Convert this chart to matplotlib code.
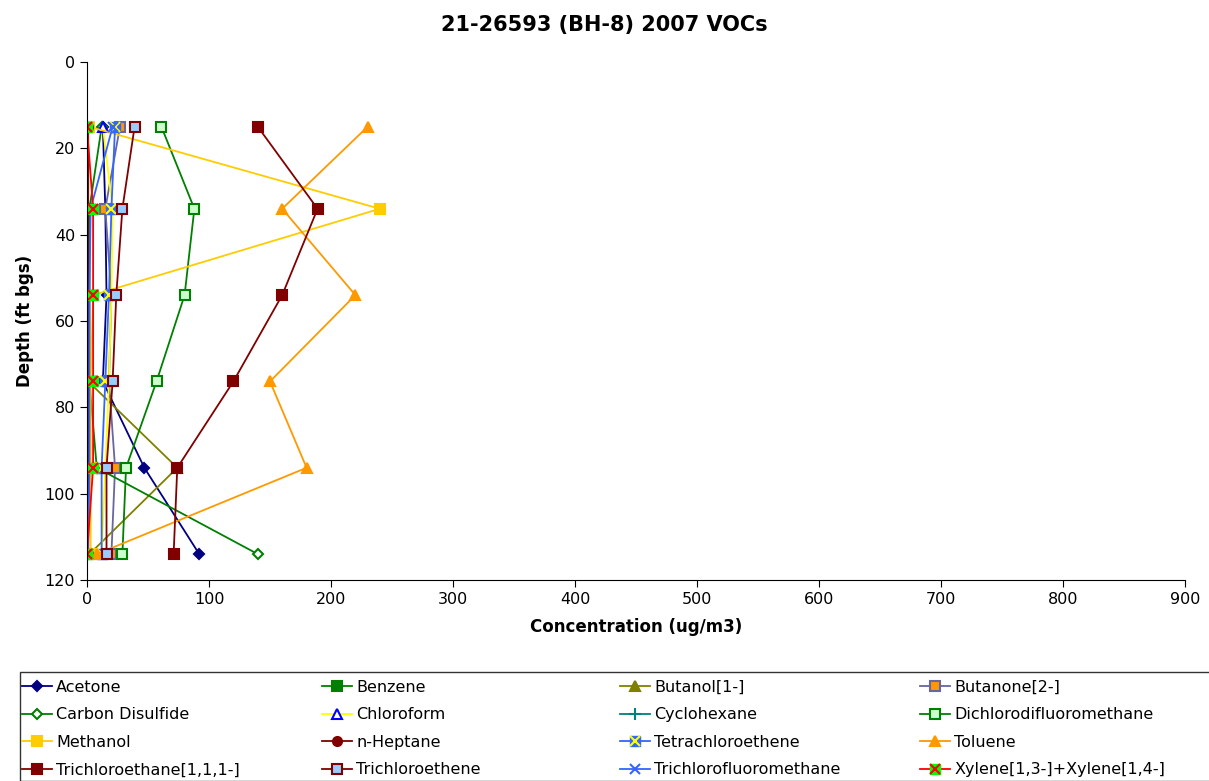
import numpy as np
import matplotlib
matplotlib.use('Agg')
import matplotlib.pyplot as plt
import matplotlib.patches as patches

depth = [15, 34, 54, 74, 94, 114]

names = ['Acetone', 'Benzene', 'Butanol[1-]', 'Butanone[2-]',
         'Carbon Disulfide', 'Chloroform', 'Cyclohexane', 'Dichlorodifluoromethane',
         'Methanol', 'n-Heptane', 'Tetrachloroethene', 'Toluene',
         'Trichloroethane[1,1,1-]', 'Trichloroethene', 'Trichlorofluoromethane',
         'Xylene[1,3-]+Xylene[1,4-]']

acetone = [13, 15, 16, 13, 47, 92]
benzene = [1, 1, 1, 1, 1, 1]
butanol = [1, 1, 1, 1, 74, 2]
butanone = [27, 15, 20, 18, 23, 20]
carbon_disulfide = [12, 2, 2, 2, 8, 140]
chloroform = [13, 21, 20, 18, 15, 12]
cyclohexane = [0, 0, 0, 0, 0, 0]
dichlorodifluoromethane = [61, 88, 80, 57, 32, 29]
methanol = [2, 240, 5, 3, 3, 3]
n_heptane = [1, 1, 1, 1, 1, 1]
tetrachloroethene = [23, 20, 18, 15, 12, 12]
toluene = [230, 160, 220, 150, 180, 8]
trichloroethane = [140, 189, 160, 120, 74, 71]
trichloroethene = [39, 29, 24, 21, 16, 16]
trichlorofluoromethane = [21, 3, 2, 2, 2, 1]
xylene = [0, 5, 5, 5, 5, 0]

series = [acetone, benzene, butanol, butanone, carbon_disulfide, chloroform,
          cyclohexane, dichlorodifluoromethane, methanol, n_heptane,
          tetrachloroethene, toluene, trichloroethane, trichloroethene,
          trichlorofluoromethane, xylene]

# (line colour, marker, face, edge, size)
styles = [
    ('#000080', 'D', '#000080', '#000080', 5.5),
    ('#008000', 's', '#008000', '#008000', 6.5),
    ('#808000', '^', '#808000', '#808000', 6.5),
    ('#6666A0', 's', '#FF9900', '#6666A0', 6.5),
    ('#008000', 'D', 'white', '#008000', 5.5),
    ('#FFFF00', '^', 'white', '#0000FF', 6.5),
    ('#008080', '+', 'none', '#008080', 8),
    ('#008000', 's', '#CCFFCC', '#008000', 6.5),
    ('#FFCC00', 's', '#FFCC00', '#FFCC00', 6.5),
    ('#800000', 'o', '#800000', '#800000', 6.5),
    ('#3366FF', 'X', '#FFFF00', '#3366FF', 6.5),
    ('#FF9900', '^', '#FF9900', '#FF9900', 6.5),
    ('#800000', 's', '#800000', '#800000', 6.5),
    ('#800000', 's', '#99CCFF', '#800000', 6.5),
    ('#3366FF', 'x', '#3366FF', '#3366FF', 7),
    ('#FF0000', 'X', '#FF0000', '#00FF00', 6.5),
]

fig = plt.figure(figsize=(12.09, 7.81), dpi=100)
ax = fig.add_axes([87/1209, 1 - 580/781, (1185-87)/1209, (580-62)/781])

handles = []
for name, vals, st in zip(names, series, styles):
    col, mk, fc, ec, ms = st
    if mk == 'X':
        sq = '#3366FF' if name.startswith('Tetra') else '#00FF00'
        xc = '#FFFF00' if name.startswith('Tetra') else '#FF0000'
        l1, = ax.plot(vals, depth, color=col, lw=1.3, marker='s', ms=ms, mfc=sq, mec=sq)
        l2, = ax.plot(vals, depth, ls='none', marker='x', ms=ms, mec=xc, mew=1.5)
        handles.append((l1, l2))
    else:
        l1, = ax.plot(vals, depth, color=col, lw=1.3, marker=mk, ms=ms, mfc=fc, mec=ec,
                      mew=1.5)
        handles.append(l1)

ax.set_xlim(0, 900)
ax.set_ylim(120, 0)
ax.set_xticks(range(0, 901, 100))
ax.set_yticks(range(0, 121, 20))
ax.spines['top'].set_visible(False)
ax.spines['right'].set_visible(False)
ax.tick_params(labelsize=11.5, length=5, direction='out')
ax.set_xlabel('Concentration (ug/m3)', fontsize=12, fontweight='bold', labelpad=8)
ax.set_ylabel('Depth (ft bgs)', fontsize=12, fontweight='bold', labelpad=8)
fig.text(0.5, 1 - 25/781, '21-26593 (BH-8) 2007 VOCs', ha='center', va='center',
         fontsize=15, fontweight='bold')

# legend box, one legend per column (reference fills rows left to right)
W, H = 1209, 781
fig.patches.append(patches.Rectangle((20/W, 0), 1.2, 1 - 672/H, transform=fig.transFigure,
                                     fill=False, edgecolor='#333333', lw=1.0, clip_on=False))
col_x = [22, 322, 620, 920]
for c in range(4):
    idx = [r * 4 + c for r in range(4)]
    fig.legend([handles[i] for i in idx], [names[i] for i in idx],
               loc='upper left', bbox_to_anchor=(col_x[c]/W, 1 - 680/H),
               fontsize=11.5, frameon=False, handlelength=1.9, handletextpad=0.25,
               labelspacing=0.78, borderaxespad=0, borderpad=0)

fig.savefig('out.png', dpi=100)
